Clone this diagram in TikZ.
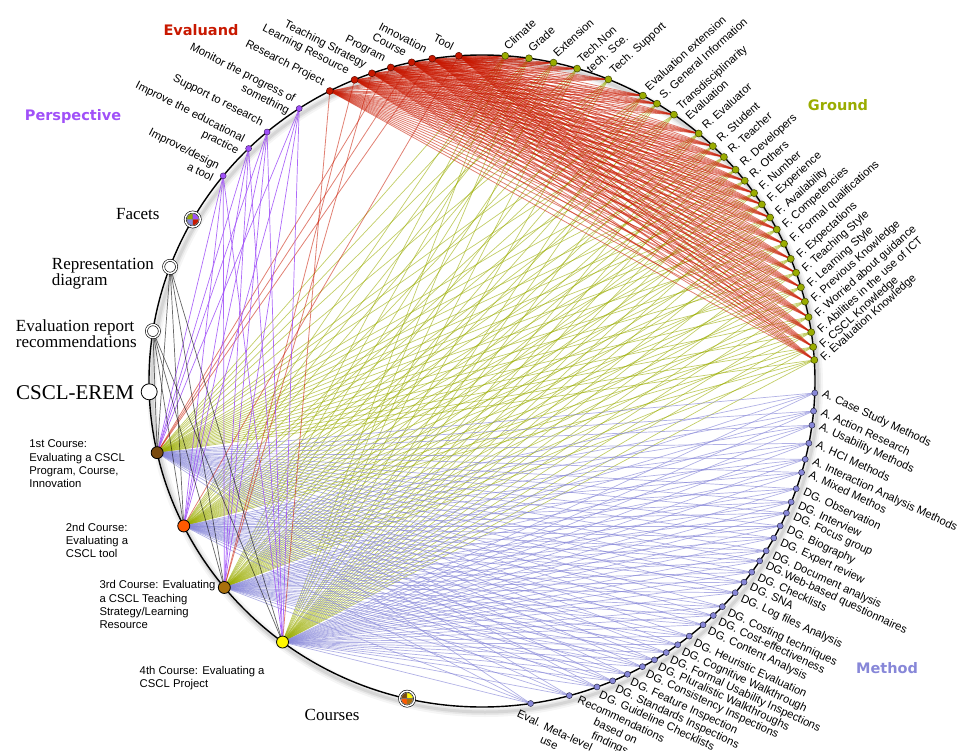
\documentclass[tikz,border=0pt]{standalone}
\usepackage{fontspec}
\setmainfont{Liberation Serif}
\setsansfont{Liberation Sans}
\newfontfamily\titlefont{DejaVu Sans}
\usetikzlibrary{calc,backgrounds}

\definecolor{evalred}{HTML}{C81800}
\definecolor{persp}{HTML}{A050F8}
\definecolor{ground}{HTML}{9AAC00}
\definecolor{method}{HTML}{8787D8}
\definecolor{courseA}{HTML}{7A4A0E}
\definecolor{courseB}{HTML}{FF5A00}
\definecolor{courseC}{HTML}{A8700C}
\definecolor{courseD}{HTML}{FFF700}

\begin{document}
\begin{tikzpicture}[x=1pt,y=-1pt,
    leaf/.style={circle,draw,inner sep=0pt,minimum size=#1,line width=.5pt},
    evleaf/.style={leaf=7pt,fill=evalred,draw=evalred!45!black},
    peleaf/.style={leaf=6pt,fill=persp,draw=persp!45!black},
    grleaf/.style={leaf=7pt,fill=ground,draw=ground!40!black},
    meleaf/.style={leaf=6pt,fill=method,draw=method!35!black},
    crleaf/.style={leaf=12pt,draw=black,line width=.8pt},
    ringleaf/.style={circle,draw,fill=white,double,double distance=1.5pt,line width=.6pt,inner sep=0pt,minimum size=#1},
    ringleaf/.default=13pt,
    lab/.style={font=\sffamily\fontsize{11.3}{13.3}\selectfont,inner sep=0pt},
    leftlab/.style={lab,rotate=-27,anchor=north east,align=right},
    grlab/.style={lab,rotate=42,anchor=north west,align=left},
    melab/.style={lab,rotate=-25,anchor=north west,align=left},
    crlab/.style={lab,anchor=north west,align=left},
    serlab/.style={font=\fontsize{17}{16}\selectfont,inner sep=0pt,anchor=east,align=left},
    grouptitle/.style={font=\titlefont\bfseries\fontsize{14.5}{17}\selectfont},
    evline/.style={evalred,opacity=.55,line width=.8pt},
    grline/.style={ground,opacity=.6,line width=.7pt},
    meline/.style={method,opacity=.65,line width=.7pt},
    peline/.style={persp,opacity=.85,line width=.7pt},
    blkline/.style={black,opacity=.6,line width=.7pt}]
  \useasboundingbox (0,0) rectangle (958,751);
  \draw[line width=1.4pt] (482,381) ellipse [x radius=333,y radius=326];

  % Evaluand
  \foreach \ang/\txt [count=\i] in {117.2/Research Project,112.5/Learning Resource,109.3/Teaching Strategy,
      105.9/Program,102.2/Course,98.6/Innovation,94.0/Tool}{
    \node[evleaf] (ev\i) at ({482+333*cos(\ang)},{381-326*sin(\ang)}) {};
    \node[leftlab] (evlab\i) at ($(ev\i)+(-3.7,-13)$) {\txt};
  }
  % Perspective
  \foreach \ang/\txt [count=\i] in {123.3/{Monitor the progress of\\something},130.2/Support to research,
      134.5/{Improve the educational\\practice},141.0/{Improve/design\\a tool}}{
    \node[peleaf] (pe\i) at ({482+333*cos(\ang)},{381-326*sin(\ang)}) {};
    \node[leftlab] (pelab\i) at ($(pe\i)+(-2.2,-13.5)$) {\txt};
  }
  % Ground
  \foreach \ang/\txt [count=\i] in {86.0/Climate,81.9/Grade,77.6/Extension,73.4/{Tech.Non\\tech. Sce.},
      67.7/Tech. Support,61.1/Evaluation extension,58.3/S. General Information,
      54.8/{Transdisciplinarity\\Evaluation},49.4/R. Evaluator,46.1/R. Student,43.4/R. Teacher,
      40.4/R. Developers,37.9/R. Others,35.2/F. Number,32.8/F. Experience,30.1/F. Availability,
      27.7/F. Competencies,24.9/F. Formal qualifications,22.0/F. Expectations,19.4/F. Teaching Style,
      16.7/F. Learning Style,14.1/F. Previous Knowledge,11.3/F. Worried about guidance,
      8.6/F. Abilities in the use of ICT,6.0/F. CSCL Knowledge,3.7/F. Evaluation Knowledge}{
    \node[grleaf] (gr\i) at ({482+333*cos(\ang)},{381-326*sin(\ang)}) {};
    \node[grlab] (grlab\i) at ({482+341*cos(\ang)-3.3},{381-334*sin(\ang)-3.7}) {\txt};
  }
  % Method
  \foreach \ang/\txt [count=\i] in {-2.1/A. Case Study Methods,-5.3/A. Action Research,-7.8/A. Usability Methods,
      -11.0/A. HCI Methods,-13.9/A. Interaction Analysis Methods,-16.3/A. Mixed Methos,-19.3/DG. Observation,
      -21.8/DG. Interview,-23.9/DG. Focus group,-26.4/DG. Biography,-28.8/DG. Expert review,
      -31.4/DG. Document analysis,-33.5/DG.Web-based questionnaires,-35.9/DG. Checklists,-38.1/DG. SNA,
      -40.5/DG. Log files Analysis,-43.8/DG. Costing techniques,-46.0/DG. Cost-effectiveness,
      -48.4/DG. Content Analysis,-51.5/DG. Heuristic Evaluation,-54.0/DG. Cognitive Walkthrough,
      -56.4/DG. Formal Usability Inspections,-58.8/DG. Pluralistic Walkthroughs,
      -61.2/DG. Consistency Inspections,-64.1/DG. Feature Inspection,-66.9/DG. Standards Inspections,
      -69.8/DG. Guideline Checklists}{
    \node[meleaf] (me\i) at ({482+333*cos(\ang)},{381-326*sin(\ang)}) {};
    \node[melab] (melab\i) at ({482+341*cos(\ang)+2.1},{381-334*sin(\ang)-4.5}) {\txt};
  }
  \node[meleaf] (me28) at ({482+333*cos(-74.8)},{381-326*sin(-74.8)}) {};
  \node[melab,align=center] (melab28) at ($(me28)+(11,-0.5)$) {Recommendations\\based on\\findings};
  \node[meleaf] (me29) at ({482+333*cos(-81.6)},{381-326*sin(-81.6)}) {};
  \node[melab,align=center] (melab29) at ($(me29)+(-11,5.5)$) {Eval. Meta-level\\use};

  % Courses
  \foreach \ang/\col [count=\i] in {192.7/courseA,206.4/courseB,219.3/courseC,233.2/courseD}
    \node[crleaf,fill=\col] (c\i) at ({482+333*cos(\ang)},{381-326*sin(\ang)}) {};
  \node[crlab] (clab1) at ($(c1)+(-128,-13)$) {1st Course:\\Evaluating a CSCL\\Program, Course,\\Innovation};
  \node[crlab] (clab2) at ($(c2)+(-118,-3)$) {2nd Course:\\Evaluating a\\CSCL tool};
  \node[crlab] (clab3) at ($(c3)+(-125,-7)$) {3rd Course: Evaluating\\a CSCL Teaching\\Strategy/Learning\\Resource};
  \node[crlab] (clab4) at ($(c4)+(-143,24)$) {4th Course: Evaluating a\\CSCL Project};

  % facets and outputs
  \node[ringleaf=15pt] (facets) at ({482+333*cos(150.3)},{381-326*sin(150.3)}) {};
  \foreach \s/\col in {180/ground,270/persp,0/evalred,90/method}
    \filldraw[fill=\col,draw=black!55,line width=.3pt] (facets.center) -- ++(\s:5.8) arc[start angle=\s,delta angle=90,radius=5.8] -- cycle;
  \node[ringleaf] (repdiag) at ({482+333*cos(159.5)},{381-326*sin(159.5)}) {};
  \node[ringleaf] (evalrep) at ({482+333*cos(171.2)},{381-326*sin(171.2)}) {};
  \node[circle,draw,fill=white,line width=.8pt,inner sep=0pt,minimum size=16pt] (cscl) at ({482+333*cos(181.9)},{381-326*sin(181.9)}) {};
  \node[ringleaf=15pt] (courses) at ({482+333*cos(257)},{381-326*sin(257)}) {};
  \foreach \s/\col in {180/courseA,270/courseD,0/courseC,90/courseB}
    \filldraw[fill=\col,draw=black!55,line width=.3pt] (courses.center) -- ++(\s:5.8) arc[start angle=\s,delta angle=90,radius=5.8] -- cycle;

  \node[serlab] (facetslab) at ($(facets)+(-33,-5)$) {Facets};
  \node[serlab] (repdiaglab) at ($(repdiag)+(-16,7)$) {Representation\\diagram};
  \node[serlab] (evalreplab) at ($(evalrep)+(-16,3)$) {Evaluation report\\recommendations};
  \node[serlab,font=\fontsize{21}{24}\selectfont] (cscllab) at ($(cscl)+(-15,1)$) {CSCL-EREM};
  \node[serlab,anchor=center] (courseslab) at ($(courses)+(-75,16)$) {Courses};

  \node[grouptitle,text=evalred] (evaluand) at (201,30) {Evaluand};
  \node[grouptitle,text=persp] (perspective) at (73,117) {Perspective};
  \node[grouptitle,text=ground] (groundtitle) at (838,105) {Ground};
  \node[grouptitle,text=method] (methodtitle) at (887,668) {Method};

  \begin{scope}[on background layer]
    \foreach \w/\o in {10/.04,6/.06,3/.08}
      \draw[line width=\w pt,black,opacity=\o] (485,386) ellipse [x radius=333,y radius=326];
    \foreach \gnd in {1,...,26}
      \foreach \crs in {1,...,4}
        \draw[grline] (gr\gnd.center) -- (c\crs.center);
    \foreach \mth in {1,...,29}
      \foreach \crs in {1,...,4}
        \draw[meline] (me\mth.center) -- (c\crs.center);
    \foreach \evl in {1,...,7}
      \foreach \gnd in {1,...,26}
        \draw[evline] (ev\evl.center) -- (gr\gnd.center);
    \foreach \evl/\crs in {4/1,5/1,6/1,7/2,2/3,3/3,1/4}
      \draw[evline] (ev\evl.center) -- (c\crs.center);
    \foreach \per in {1,...,4}
      \foreach \crs in {1,...,4}
        \draw[peline] (pe\per.center) -- (c\crs.center);
    \foreach \src in {repdiag,evalrep}
      \foreach \crs in {1,...,4}
        \draw[blkline] (\src.center) -- (c\crs.center);
  \end{scope}
\end{tikzpicture}
\end{document}
